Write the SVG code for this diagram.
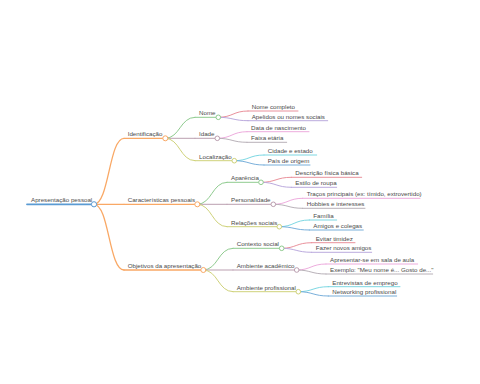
<svg xmlns="http://www.w3.org/2000/svg" width="480" height="384" viewBox="0 0 480 384">
<style>
text{font-family:"Liberation Sans",Arial,sans-serif;font-size:6.2px;fill:#4a4a4a}
path,line{fill:none;stroke-linecap:round}
circle{fill:#fff;stroke-width:1}
.b{stroke:#5b9bd3}
.o{stroke:#f9a865}
.g{stroke:#8fcb8f}
.m{stroke:#bb9fb0}
.y{stroke:#cfd27a}
.r{stroke:#e68590}
.p{stroke:#b3a0d9}
.k{stroke:#eba3d9}
.gr{stroke:#b0a8b0}
.c{stroke:#6ed3df}
.bl{stroke:#6aa6d6}
.w2{stroke-width:1.8}
.w15{stroke-width:1.3}
.w1{stroke-width:1}
.w08{stroke-width:0.9}
</style>
<rect width="480" height="384" fill="#fff"/>
<g id="connectors">
<path class="o w15" d="M94,204.3 C109,204.3 109,138.3 124,138.3"/>
<path class="o w15" d="M94,204.3 L124,204.3"/>
<path class="o w15" d="M94,204.3 C109,204.3 109,270 124,270"/>
<path class="g w1" d="M165.3,138.3 C180,138.3 180,117.3 195,117.3"/>
<path class="m w1" d="M165.3,138.3 L195,138.3"/>
<path class="y w1" d="M165.3,138.3 C180,138.3 180,160.7 195,160.7"/>
<path class="r w08" d="M218.3,117.3 C233,117.3 233,111 248,111"/>
<path class="p w08" d="M218.3,117.3 C233,117.3 233,120.7 248,120.7"/>
<path class="k w08" d="M217.3,138.3 C232,138.3 232,131.7 247,131.7"/>
<path class="gr w08" d="M217.3,138.3 C232,138.3 232,142.3 247,142.3"/>
<path class="c w08" d="M234.3,160.7 C249,160.7 249,155 264,155"/>
<path class="bl w08" d="M234.3,160.7 C249,160.7 249,165 264,165"/>
<path class="g w1" d="M197.3,204.3 C212,204.3 212,182.3 227,182.3"/>
<path class="m w1" d="M197.3,204.3 L227,204.3"/>
<path class="y w1" d="M197.3,204.3 C212,204.3 212,226.7 227,226.7"/>
<path class="r w08" d="M261,182.3 C276,182.3 276,177.3 291.3,177.3"/>
<path class="p w08" d="M261,182.3 C276,182.3 276,187.3 291.3,187.3"/>
<path class="k w08" d="M273.3,204.3 C288,204.3 288,198.3 302.7,198.3"/>
<path class="gr w08" d="M273.3,204.3 C288,204.3 288,208.3 302.7,208.3"/>
<path class="c w08" d="M279.3,226.7 C294,226.7 294,220 309.3,220"/>
<path class="bl w08" d="M279.3,226.7 C294,226.7 294,230 309.3,230"/>
<path class="g w1" d="M203.3,270 C218,270 218,248.3 233,248.3"/>
<path class="m w1" d="M203.3,270 L233,270"/>
<path class="y w1" d="M203.3,270 C218,270 218,291.7 233,291.7"/>
<path class="r w08" d="M281.7,248.3 C296,248.3 296,242.7 311.7,242.7"/>
<path class="p w08" d="M281.7,248.3 C296,248.3 296,252.3 311.7,252.3"/>
<path class="k w08" d="M296.7,270 C311,270 311,264 326,264"/>
<path class="gr w08" d="M296.7,270 C311,270 311,274 326,274"/>
<path class="c w08" d="M298.3,291.7 C313,291.7 313,286.7 328.3,286.7"/>
<path class="bl w08" d="M298.3,291.7 C313,291.7 313,296 328.3,296"/>
</g>
<g id="root"><line class="b w2" x1="27" y1="204.3" x2="94" y2="204.3"/><circle class="b" cx="94" cy="204.3" r="2.6"/><text x="31" y="202.3">Apresentação pessoal</text></g>
<g id="n-identificacao"><line class="o w15" x1="124" y1="138.3" x2="165.3" y2="138.3"/><circle class="o" cx="165.3" cy="138.3" r="2.5"/><text x="127.7" y="136.3">Identificação</text></g>
<g id="n-caracteristicas"><line class="o w15" x1="124" y1="204.3" x2="197.3" y2="204.3"/><circle class="o" cx="197.3" cy="204.3" r="2.5"/><text x="127.7" y="202.3">Características pessoais</text></g>
<g id="n-objetivos"><line class="o w15" x1="124" y1="270" x2="203.3" y2="270"/><circle class="o" cx="203.3" cy="270" r="2.5"/><text x="127.7" y="268">Objetivos da apresentação</text></g>
<g id="n-nome"><line class="g w1" x1="195" y1="117.3" x2="218.3" y2="117.3"/><circle class="g" cx="218.3" cy="117.3" r="2.3"/><text x="199" y="115.3">Nome</text></g>
<g id="n-idade"><line class="m w1" x1="195" y1="138.3" x2="217.3" y2="138.3"/><circle class="m" cx="217.3" cy="138.3" r="2.3"/><text x="199" y="136.3">Idade</text></g>
<g id="n-localizacao"><line class="y w1" x1="195" y1="160.7" x2="234.3" y2="160.7"/><circle class="y" cx="234.3" cy="160.7" r="2.3"/><text x="199" y="158.7">Localização</text></g>
<g id="n-nome-completo"><line class="r w08" x1="248" y1="111" x2="298" y2="111"/><text x="251.7" y="109">Nome completo</text></g>
<g id="n-apelidos"><line class="p w08" x1="248" y1="120.7" x2="327.7" y2="120.7"/><text x="251.7" y="118.7">Apelidos ou nomes sociais</text></g>
<g id="n-data"><line class="k w08" x1="247" y1="131.7" x2="309" y2="131.7"/><text x="251" y="129.7">Data de nascimento</text></g>
<g id="n-faixa"><line class="gr w08" x1="247" y1="142.3" x2="286.7" y2="142.3"/><text x="251" y="140.3">Faixa etária</text></g>
<g id="n-cidade"><line class="c w08" x1="264" y1="155" x2="316.7" y2="155"/><text x="267.7" y="153">Cidade e estado</text></g>
<g id="n-pais"><line class="bl w08" x1="264" y1="165" x2="310" y2="165"/><text x="267.7" y="163">País de origem</text></g>
<g id="n-aparencia"><line class="g w1" x1="227" y1="182.3" x2="261" y2="182.3"/><circle class="g" cx="261" cy="182.3" r="2.3"/><text x="231" y="180.3">Aparência</text></g>
<g id="n-personalidade"><line class="m w1" x1="227" y1="204.3" x2="273.3" y2="204.3"/><circle class="m" cx="273.3" cy="204.3" r="2.3"/><text x="231" y="202.3">Personalidade</text></g>
<g id="n-relacoes"><line class="y w1" x1="227" y1="226.7" x2="279.3" y2="226.7"/><circle class="y" cx="279.3" cy="226.7" r="2.3"/><text x="231" y="224.7">Relações sociais</text></g>
<g id="n-descricao"><line class="r w08" x1="291.3" y1="177.3" x2="361.7" y2="177.3"/><text x="295.3" y="175.3">Descrição física básica</text></g>
<g id="n-estilo"><line class="p w08" x1="291.3" y1="187.3" x2="336.7" y2="187.3"/><text x="295.3" y="185.3">Estilo de roupa</text></g>
<g id="n-tracos"><line class="k w08" x1="302.7" y1="198.3" x2="420" y2="198.3"/><text x="306.7" y="196.3">Traços principais (ex: tímido, extrovertido)</text></g>
<g id="n-hobbies"><line class="gr w08" x1="302.7" y1="208.3" x2="365" y2="208.3"/><text x="306.7" y="206.3">Hobbies e interesses</text></g>
<g id="n-familia"><line class="c w08" x1="309.3" y1="220" x2="336.7" y2="220"/><text x="313.3" y="218">Família</text></g>
<g id="n-amigos"><line class="bl w08" x1="309.3" y1="230" x2="363.3" y2="230"/><text x="313.3" y="228">Amigos e colegas</text></g>
<g id="n-contexto"><line class="g w1" x1="233" y1="248.3" x2="281.7" y2="248.3"/><circle class="g" cx="281.7" cy="248.3" r="2.3"/><text x="236.7" y="246.3">Contexto social</text></g>
<g id="n-academico"><line class="m w1" x1="233" y1="270" x2="296.7" y2="270"/><circle class="m" cx="296.7" cy="270" r="2.3"/><text x="236.7" y="268">Ambiente acadêmico</text></g>
<g id="n-profissional"><line class="y w1" x1="233" y1="291.7" x2="298.3" y2="291.7"/><circle class="y" cx="298.3" cy="291.7" r="2.3"/><text x="236.7" y="289.7">Ambiente profissional</text></g>
<g id="n-evitar"><line class="r w08" x1="311.7" y1="242.7" x2="355" y2="242.7"/><text x="315.7" y="240.7">Evitar timidez</text></g>
<g id="n-fazer"><line class="p w08" x1="311.7" y1="252.3" x2="371.7" y2="252.3"/><text x="315.7" y="250.3">Fazer novos amigos</text></g>
<g id="n-apresentar"><line class="k w08" x1="326" y1="264" x2="417.7" y2="264"/><text x="330" y="262">Apresentar-se em sala de aula</text></g>
<g id="n-exemplo"><line class="gr w08" x1="326" y1="274" x2="432.7" y2="274"/><text x="330" y="272">Exemplo: "Meu nome é... Gosto de..."</text></g>
<g id="n-entrevistas"><line class="c w08" x1="328.3" y1="286.7" x2="400" y2="286.7"/><text x="332.3" y="284.7">Entrevistas de emprego</text></g>
<g id="n-networking"><line class="bl w08" x1="328.3" y1="296" x2="396.7" y2="296"/><text x="332.3" y="294">Networking profissional</text></g>
</svg>
